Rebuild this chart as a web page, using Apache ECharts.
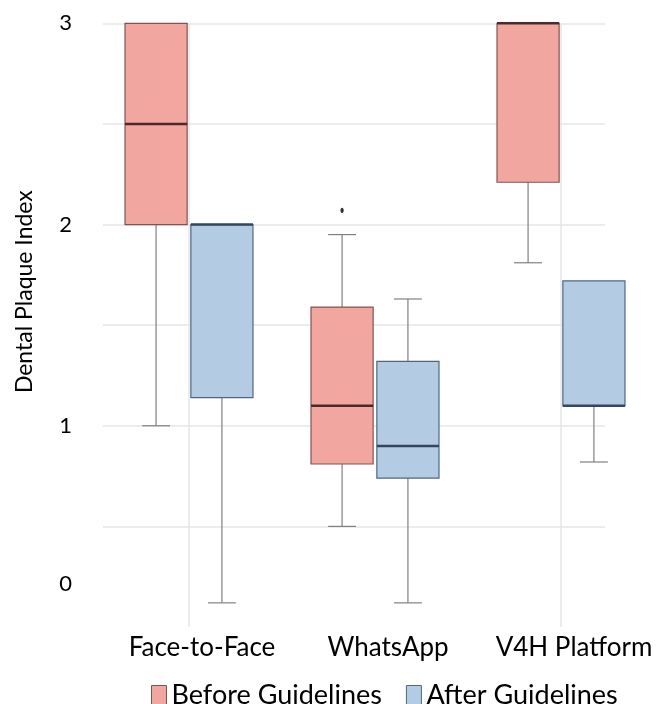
<!DOCTYPE html>
<html>
<head>
<meta charset="utf-8">
<script src="https://cdn.jsdelivr.net/npm/echarts@6/dist/echarts.min.js"></script>
<style>
  html, body { margin: 0; padding: 0; background: #fff; }
  #chart { width: 668px; height: 704px; }
</style>
</head>
<body>
<div id="chart"></div>
<script>
// ---- data ----
const categories = ['Face-to-Face', 'WhatsApp', 'V4H Platform'];
// [min, Q1, median, Q3, max]
const beforeStats = [
  [1.00, 2.00, 2.50, 3.00, 3.00],
  [0.50, 0.81, 1.10, 1.59, 1.95],
  [1.81, 2.21, 3.00, 3.00, 3.00]
];
const afterStats = [
  [0.12, 1.14, 2.00, 2.00, 2.00],
  [0.12, 0.74, 0.90, 1.32, 1.63],
  [0.82, 1.10, 1.10, 1.72, 1.72]
];
// [category index, value]
const beforeOutliers = [[1, 2.07]];
const afterOutliers = [];
const yMin = 0, yMax = 3, yStep = 0.5;
const seriesNames = ['Before Guidelines', 'After Guidelines'];

// ---- styles ----
const FONT = 'Lato';
const TEXT = '#000';
const RED = { fill: '#f2a6a0', border: '#7e5552', median: '#4a2a2a' };
const BLUE = { fill: '#b4cbe4', border: '#4f6680', median: '#33465a' };
const WHISKER = { stroke: '#808080', lineWidth: 1.2 };

function boxRenderer(side, c) {
  return function (params, api) {
    const ci = api.value(0);
    const band = api.size([1, 0])[0];
    const cx = api.coord([ci, 0])[0] + side * band * 0.177;
    const half = band * 0.167;
    const capHalf = band * 0.075;
    const y = i => api.coord([ci, api.value(i)])[1];
    const yLo = y(1), yQ1 = y(2), yMed = y(3), yQ3 = y(4), yHi = y(5);
    const ch = [];
    if (api.value(5) > api.value(4)) {
      ch.push({ type: 'line', shape: { x1: cx, y1: yQ3, x2: cx, y2: yHi }, style: WHISKER });
      ch.push({ type: 'line', shape: { x1: cx - capHalf, y1: yHi, x2: cx + capHalf, y2: yHi }, style: WHISKER });
    }
    if (api.value(1) < api.value(2)) {
      ch.push({ type: 'line', shape: { x1: cx, y1: yQ1, x2: cx, y2: yLo }, style: WHISKER });
      ch.push({ type: 'line', shape: { x1: cx - capHalf, y1: yLo, x2: cx + capHalf, y2: yLo }, style: WHISKER });
    }
    ch.push({ type: 'rect', shape: { x: cx - half, y: yQ3, width: 2 * half, height: yQ1 - yQ3 },
      style: { fill: c.fill, stroke: c.border, lineWidth: 1.2 } });
    ch.push({ type: 'line', shape: { x1: cx - half, y1: yMed, x2: cx + half, y2: yMed },
      style: { stroke: c.median, lineWidth: 2.5 } });
    return { type: 'group', children: ch };
  };
}
function outlierRenderer(side) {
  return function (params, api) {
    const ci = api.value(0);
    const band = api.size([1, 0])[0];
    const p = api.coord([ci, api.value(1)]);
    return { type: 'ellipse', shape: { cx: p[0] + side * band * 0.177, cy: p[1], rx: 1.6, ry: 2.6 },
      style: { fill: '#333' } };
  };
}

const chart = echarts.init(document.getElementById('chart'), null, { renderer: 'canvas' });
const option = {
  backgroundColor: '#ffffff',
  animation: false,
  textStyle: { fontFamily: FONT },
  grid: [
    { left: 103, right: 63, top: 23.3, bottom: 77 },
    { left: 96, right: 14, top: 23.3, bottom: 77 }
  ],
  xAxis: [
    { type: 'category', gridIndex: 0, data: categories, show: false },
    { type: 'category', gridIndex: 1, data: categories,
      axisLine: { show: false }, axisTick: { show: false }, splitLine: { show: false },
      axisLabel: { interval: 0, hideOverlap: false, fontFamily: FONT, fontSize: 26, color: TEXT,
        margin: 8, padding: [0, 0, 0, 26] } }
  ],
  yAxis: [
    { type: 'value', gridIndex: 0, min: yMin, max: yMax, interval: yStep,
      name: 'Dental Plaque Index', nameLocation: 'middle', nameRotate: 90, nameGap: 67,
      nameTextStyle: { fontFamily: FONT, fontSize: 23, color: TEXT, padding: [0, 0, 0, 67] },
      axisLine: { show: false }, axisTick: { show: false },
      splitLine: { show: true, showMinLine: false, lineStyle: { color: '#e6e6e6', width: 1.5 } },
      axisLabel: {
        fontFamily: FONT, fontSize: 22, color: TEXT, margin: 31,
        formatter: v => (Math.abs(v - Math.round(v)) < 1e-9 ? (v === 0 ? '{z|0}' : String(v)) : ''),
        rich: { z: { fontFamily: FONT, fontSize: 22, color: TEXT, padding: [0, 0, 86, 0] } }
      } },
    { type: 'value', gridIndex: 1, min: yMin, max: yMax, show: false }
  ],
  legend: {
    data: [
      { name: seriesNames[0], itemStyle: { color: RED.fill, borderColor: RED.border, borderWidth: 1 } },
      { name: seriesNames[1], itemStyle: { color: BLUE.fill, borderColor: BLUE.border, borderWidth: 1 } }
    ],
    icon: 'rect', left: 151, top: 682, padding: 0, itemWidth: 15, itemHeight: 20, itemGap: 24,
    textStyle: { fontFamily: FONT, fontSize: 27, color: TEXT }
  },
  series: [
    { name: seriesNames[0], type: 'custom', xAxisIndex: 1, yAxisIndex: 1,
      renderItem: boxRenderer(-1, RED), encode: { x: 0, y: [1, 2, 3, 4, 5] },
      itemStyle: { color: RED.fill, borderColor: RED.border },
      data: beforeStats.map((s, i) => [i].concat(s)),
      markLine: { silent: true, symbol: 'none', label: { show: false },
        lineStyle: { color: '#e6e6e6', width: 1.5, type: 'solid' },
        data: [{ xAxis: categories[0] }, { xAxis: categories[2] }] },
      z: 3 },
    { name: seriesNames[1], type: 'custom', xAxisIndex: 1, yAxisIndex: 1,
      renderItem: boxRenderer(1, BLUE), encode: { x: 0, y: [1, 2, 3, 4, 5] },
      itemStyle: { color: BLUE.fill, borderColor: BLUE.border },
      data: afterStats.map((s, i) => [i].concat(s)), z: 3 },
    { name: 'Before outliers', type: 'custom', xAxisIndex: 1, yAxisIndex: 1,
      renderItem: outlierRenderer(-1), encode: { x: 0, y: 1 }, data: beforeOutliers, z: 4 },
    { name: 'After outliers', type: 'custom', xAxisIndex: 1, yAxisIndex: 1,
      renderItem: outlierRenderer(1), encode: { x: 0, y: 1 }, data: afterOutliers, z: 4 }
  ]
};
chart.setOption(option);
</script>
</body>
</html>
